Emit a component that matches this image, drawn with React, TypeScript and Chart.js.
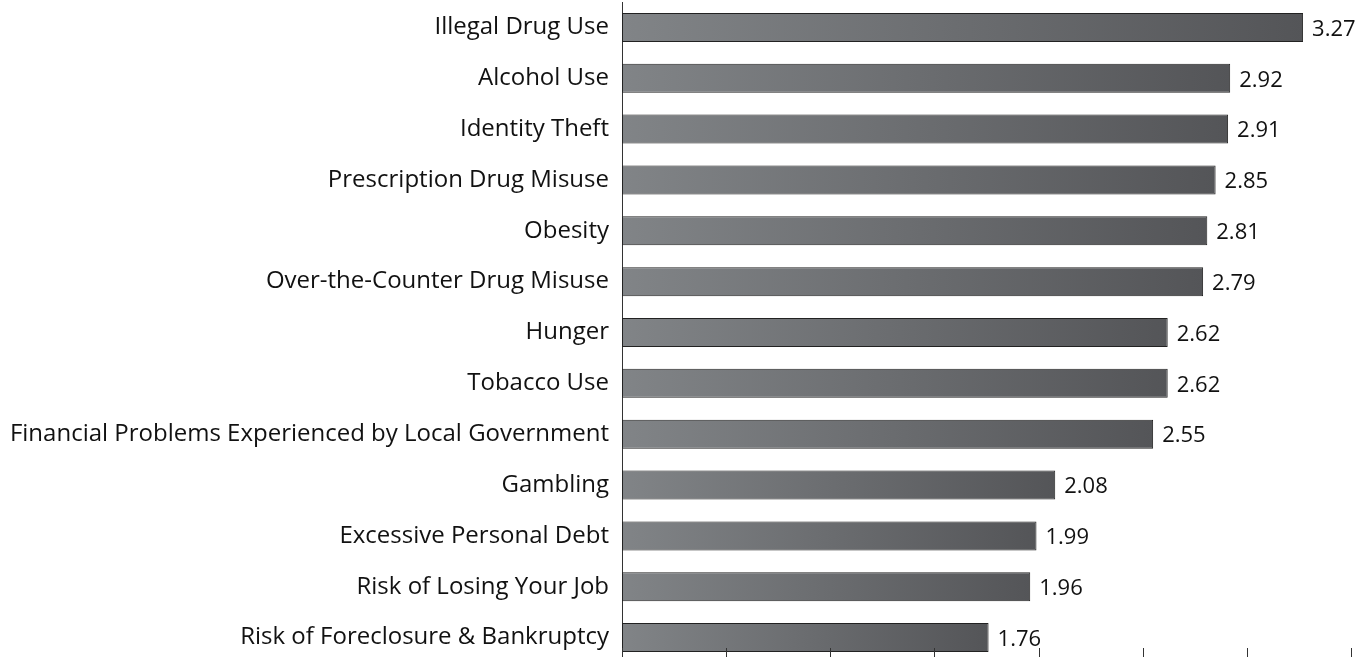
import React, { useEffect, useRef } from "react";
import { Chart, registerables } from "chart.js";

Chart.register(...registerables);

const categories = [
  "Illegal Drug Use",
  "Alcohol Use",
  "Identity Theft",
  "Prescription Drug Misuse",
  "Obesity",
  "Over-the-Counter Drug Misuse",
  "Hunger",
  "Tobacco Use",
  "Financial Problems Experienced by Local Government",
  "Gambling",
  "Excessive Personal Debt",
  "Risk of Losing Your Job",
  "Risk of Foreclosure & Bankruptcy",
];
const values = [3.27, 2.92, 2.91, 2.85, 2.81, 2.79, 2.62, 2.62, 2.55, 2.08, 1.99, 1.96, 1.76];
const xMin = 0;
const xMax = 3.5;
const xStep = 0.5;

const FONT = "'Open Sans', sans-serif";

export default function App() {
  const ref = useRef<HTMLCanvasElement | null>(null);
  useEffect(() => {
    if (!ref.current) return;
    const valueLabels = {
      id: "valueLabels",
      afterDatasetsDraw(chart: any) {
        const c = chart.ctx;
        const meta = chart.getDatasetMeta(0);
        c.save();
        c.fillStyle = "#111";
        c.font = `22px ${FONT}`;
        c.textAlign = "left";
        c.textBaseline = "middle";
        meta.data.forEach((el: any, i: number) => {
          c.fillText(values[i].toFixed(2), el.x + 9, el.y + 2);
        });
        c.restore();
      },
    };
    const xTicks = {
      id: "xTicks",
      afterDraw(chart: any) {
        const c = chart.ctx;
        const xs = chart.scales.x;
        const bottom = chart.chartArea.bottom;
        c.save();
        c.strokeStyle = "#333";
        c.lineWidth = 1;
        for (let v = xMin; v <= xMax + 1e-9; v += xStep) {
          const px = Math.round(xs.getPixelForValue(v)) + 0.5;
          c.beginPath();
          c.moveTo(px, bottom - 15);
          c.lineTo(px, bottom);
          c.stroke();
        }
        c.restore();
      },
    };
    const chart = new Chart(ref.current, {
      type: "bar",
      data: {
        labels: categories,
        datasets: [
          {
            data: values,
            backgroundColor: (ctx: any) => {
              const ch = ctx.chart;
              const xs = ch.scales && ch.scales.x;
              if (!xs || ctx.dataIndex === undefined) return "#6d6f72";
              const x0 = xs.getPixelForValue(0);
              const x1 = xs.getPixelForValue(values[ctx.dataIndex]);
              if (!isFinite(x0) || !isFinite(x1) || x1 <= x0) return "#6d6f72";
              const g = ch.ctx.createLinearGradient(x0, 0, x1, 0);
              g.addColorStop(0, "#818487");
              g.addColorStop(1, "#545558");
              return g;
            },
            borderColor: "#222",
            borderWidth: 1,
            borderSkipped: false,
            barPercentage: 0.57,
            categoryPercentage: 1,
          },
        ],
      },
      options: {
        indexAxis: "y",
        animation: false,
        responsive: false,
        maintainAspectRatio: false,
        layout: { padding: { top: 2, right: 11, left: 0, bottom: 0 } },
        plugins: { legend: { display: false }, tooltip: { enabled: false } },
        scales: {
          x: {
            display: false,
            min: xMin,
            max: xMax,
            ticks: { stepSize: xStep },
          },
          y: {
            afterFit: (s: any) => {
              s.width = 622;
              s.paddingTop = 0;
              s.paddingBottom = 0;
            },
            grid: { display: false, drawTicks: false },
            border: { display: true, color: "#333", width: 1 },
            ticks: {
              color: "#111",
              padding: 13,
              font: { family: FONT, size: 24 },
            },
          },
        },
      },
      plugins: [valueLabels, xTicks],
    });
    return () => chart.destroy();
  }, []);
  return (
    <div style={{ position: "fixed", left: 0, top: 0, width: 1362, height: 663, background: "#fff" }}>
      <canvas ref={ref} width={1362} height={663} style={{ width: 1362, height: 663, display: "block" }} />
    </div>
  );
}
